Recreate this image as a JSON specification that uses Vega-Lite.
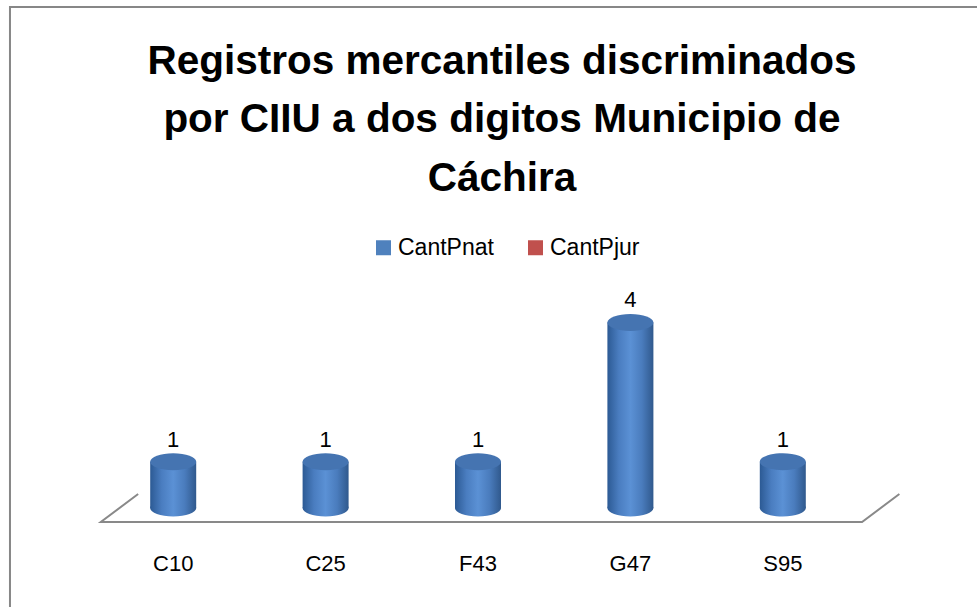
{
  "$schema": "https://vega.github.io/schema/vega-lite/v6.json",
  "width": 762,
  "height": 246,
  "autosize": {"type": "none"},
  "padding": {"left": 97, "top": 276, "right": 118, "bottom": 85},
  "background": "white",
  "title": {
    "text": ["Registros mercantiles discriminados", "por CIIU  a dos digitos Municipio de", "Cáchira"],
    "anchor": "middle",
    "dx": 24,
    "offset": -193,
    "font": "Liberation Sans",
    "fontSize": 40.5,
    "fontWeight": "bold",
    "color": "black",
    "lineHeight": 58.5
  },
  "datasets": {
    "registros": [
      {"ciiu": "C10", "serie": "CantPnat", "cantidad": 1},
      {"ciiu": "C25", "serie": "CantPnat", "cantidad": 1},
      {"ciiu": "F43", "serie": "CantPnat", "cantidad": 1},
      {"ciiu": "G47", "serie": "CantPnat", "cantidad": 4},
      {"ciiu": "S95", "serie": "CantPnat", "cantidad": 1},
      {"ciiu": "C10", "serie": "CantPjur", "cantidad": 0},
      {"ciiu": "C25", "serie": "CantPjur", "cantidad": 0},
      {"ciiu": "F43", "serie": "CantPjur", "cantidad": 0},
      {"ciiu": "G47", "serie": "CantPjur", "cantidad": 0},
      {"ciiu": "S95", "serie": "CantPjur", "cantidad": 0}
    ],
    "piso": [
      {"i": 0, "px": 0.054, "py": 0.303},
      {"i": 1, "px": 0.005, "py": -0.3},
      {"i": 2, "px": 1.004, "py": -0.3},
      {"i": 3, "px": 1.053, "py": 0.303}
    ],
    "marco": [
      {"mx": -0.1142, "mx2": 1.4, "my": 10.795, "my2": -6}
    ]
  },
  "layer": [
    {
      "data": {"name": "marco"},
      "mark": {"type": "rect", "fillOpacity": 0, "stroke": "#878787", "strokeWidth": 2},
      "encoding": {
        "x": {"field": "mx", "type": "quantitative", "scale": {"domain": [0, 1], "nice": false, "zero": false}, "axis": null},
        "x2": {"field": "mx2"},
        "y": {"field": "my", "type": "quantitative", "scale": {"domain": [-0.3, 5], "nice": false, "zero": false}, "axis": null},
        "y2": {"field": "my2"}
      }
    },
    {
      "data": {"name": "piso"},
      "mark": {"type": "line", "stroke": "#898989", "strokeWidth": 2},
      "encoding": {
        "x": {"field": "px", "type": "quantitative", "scale": {"domain": [0, 1], "nice": false, "zero": false}, "axis": null},
        "y": {"field": "py", "type": "quantitative", "scale": {"domain": [-0.3, 5], "nice": false, "zero": false}, "axis": null},
        "order": {"field": "i"}
      }
    },
    {
      "data": {"name": "registros"},
      "layer": [
        {
          "mark": {"type": "bar", "opacity": 0, "width": 46},
          "encoding": {
            "x": {"field": "ciiu", "type": "nominal", "sort": null, "scale": {"paddingInner": 0, "paddingOuter": 0},
              "axis": {"title": null, "ticks": false, "domain": false, "labelAngle": 0, "labelFont": "Liberation Sans", "labelFontSize": 22, "labelColor": "black", "labelPadding": 31}},
            "y": {"field": "cantidad", "type": "quantitative", "stack": null, "scale": {"domain": [-0.3, 5], "nice": false, "zero": false}, "axis": null},
            "color": {
              "field": "serie", "type": "nominal",
              "scale": {"domain": ["CantPnat", "CantPjur"], "range": ["#4F81BD", "#C0504D"]},
              "legend": {"title": null, "orient": "none", "legendX": 275, "legendY": -40, "direction": "horizontal",
                "symbolType": "square", "symbolSize": 225, "symbolOpacity": 1, "symbolStrokeWidth": 0,
                "labelFont": "Liberation Sans", "labelFontSize": 23, "labelColor": "black", "labelOffset": 3,
                "columnPadding": 30, "padding": 0}
            }
          }
        },
        {
          "transform": [{"filter": "datum.serie === 'CantPnat'"}],
          "layer": [
            {
              "mark": {"type": "point", "filled": true, "size": 2116, "opacity": 1,
                "shape": "M -1 0 C -1 0.2044 -0.5523 0.37 0 0.37 C 0.5523 0.37 1 0.2044 1 0 C 1 -0.2044 0.5523 -0.37 0 -0.37 C -0.5523 -0.37 -1 -0.2044 -1 0 Z",
                "fill": {"gradient": "linear", "x1": 0, "x2": 1, "y1": 0, "y2": 0,
                  "stops": [{"offset": 0, "color": "#2c5a94"}, {"offset": 0.25, "color": "#4a7dc0"}, {"offset": 0.5, "color": "#5b91d5"}, {"offset": 0.75, "color": "#4a7cbd"}, {"offset": 1, "color": "#30598d"}]}},
              "encoding": {
                "x": {"field": "ciiu", "type": "nominal", "sort": null},
                "y": {"datum": 0, "type": "quantitative"}
              }
            },
            {
              "mark": {"type": "bar", "width": 46,
                "fill": {"gradient": "linear", "x1": 0, "x2": 1, "y1": 0, "y2": 0,
                  "stops": [{"offset": 0, "color": "#2c5a94"}, {"offset": 0.25, "color": "#4a7dc0"}, {"offset": 0.5, "color": "#5b91d5"}, {"offset": 0.75, "color": "#4a7cbd"}, {"offset": 1, "color": "#30598d"}]}},
              "encoding": {
                "x": {"field": "ciiu", "type": "nominal", "sort": null},
                "y": {"field": "cantidad", "type": "quantitative"},
                "y2": {"datum": 0}
              }
            },
            {
              "mark": {"type": "point", "filled": true, "size": 2116, "opacity": 1,
                "shape": "M -1 0 C -1 0.2044 -0.5523 0.37 0 0.37 C 0.5523 0.37 1 0.2044 1 0 C 1 -0.2044 0.5523 -0.37 0 -0.37 C -0.5523 -0.37 -1 -0.2044 -1 0 Z",
                "fill": "#4574b1"},
              "encoding": {
                "x": {"field": "ciiu", "type": "nominal", "sort": null},
                "y": {"field": "cantidad", "type": "quantitative"}
              }
            },
            {
              "mark": {"type": "text", "font": "Liberation Sans", "fontSize": 22, "color": "black", "baseline": "middle", "dy": -22},
              "encoding": {
                "x": {"field": "ciiu", "type": "nominal", "sort": null},
                "y": {"field": "cantidad", "type": "quantitative"},
                "text": {"field": "cantidad", "type": "quantitative"}
              }
            }
          ]
        }
      ]
    }
  ],
  "resolve": {"scale": {"x": "independent"}},
  "config": {"view": {"stroke": null}}
}
